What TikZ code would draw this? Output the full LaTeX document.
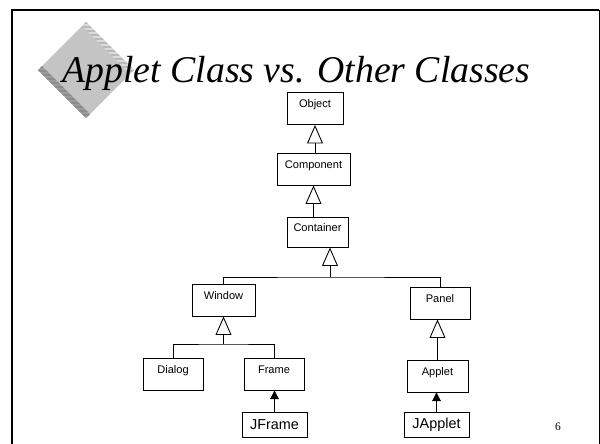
\documentclass[tikz,border=0pt]{standalone}
\usepackage{fontspec}
\setmainfont{Liberation Serif}
\setsansfont{Liberation Sans}
\usetikzlibrary{arrows.meta, positioning, calc}
\definecolor{cface}{HTML}{C4C4C4}
\definecolor{clight}{HTML}{DADADA}
\definecolor{cdark}{HTML}{9C9C9C}
\tikzset{
  every picture/.style={line width=0.5pt},
  cls/.style={draw, minimum width=#1, minimum height=0.64cm, inner sep=0pt,
    font=\sffamily\fontsize{6.3}{7}\selectfont, text height=4.8pt, text depth=5.9pt},
  cls/.default=1.2cm,
  jcls/.style={draw, minimum width=#1, minimum height=0.5cm, inner sep=0pt,
    font=\sffamily\fontsize{8.2}{9}\selectfont},
  jcls/.default=1.3cm,
  inherit/.style={-{Triangle[open, length=10.5pt, width=9pt]}},
  uses/.style={-{Triangle[length=5pt, width=5pt]}},
  title/.style={font=\itshape\fontsize{21.5}{24}\selectfont},
}

\begin{document}
\begin{tikzpicture}[x=0.02cm, y=-0.02cm]
  \useasboundingbox (0,0) rectangle (600,444);
  % slide frame
  \draw[line width=1.7pt] (12,444) -- (12,10) -- (599,10);
  \draw[line width=0.5pt] (599,10) -- (599,444);
  % bevelled diamond behind the title
  \fill[cface] (86,22) -- (134,70) -- (86,118) -- (38,70) -- cycle;
  \begin{scope}
    \clip (86,22) -- (134,70) -- (130,74) -- (82,26) -- cycle;
    \fill[clight] (30,15) rectangle (140,125);
    \foreach \y in {23,27,...,75} \draw[gray!55, line width=1.1pt] (30,\y) -- (140,\y);
  \end{scope}
  \begin{scope}
    \clip (38,70) -- (86,118) -- (90,114) -- (42,66) -- cycle;
    \fill[cdark] (30,15) rectangle (140,125);
    \foreach \y in {67,71,...,119} \draw[gray!90, line width=1.1pt] (30,\y) -- (140,\y);
  \end{scope}
  \node[title, anchor=base west, inner sep=0pt] (ttl) at (62,82) {Applet Class vs. Other Classes};

  \node[cls=1.12cm] (obj) at (315,108.5) {Object};
  \node[cls=1.46cm] (comp) at (313.5,169) {Component};
  \node[cls=1.22cm, minimum height=0.6cm] (cont) at (317.5,232) {Container};
  \node[cls=1.26cm] (win) at (223.5,300) {Window};
  \node[cls] (pnl) at (440,303) {Panel};
  \node[cls] (dlg) at (173,374) {Dialog};
  \node[cls] (frm) at (274,374) {Frame};
  \node[cls=1.22cm] (apl) at (437.5,376) {Applet};
  \node[jcls] (jfrm) at (274.5,424.5) {JFrame};
  \node[jcls] (japl) at (436.5,424.5) {JApplet};
  \node[font=\fontsize{6.5}{7}\selectfont] (pnum) at (558,427) {6};

  \draw[inherit] (comp.north -| obj.south) -- (obj.south);
  \draw[inherit] (cont.north -| comp.south) -- (comp.south);
  \coordinate (cbus) at (330,277);
  \draw[inherit] (cbus) -- (cbus |- cont.south);
  \draw (win.north) |- (cbus) -| (pnl.north);
  \coordinate (wbus) at (223.5,344);
  \draw[inherit] (wbus) -- (win.south);
  \draw (dlg.north) |- (wbus) -| (frm.north);
  \draw[inherit] (apl.north) -- (apl.north |- pnl.south);
  \draw[uses] (jfrm.north) -- (jfrm.north |- frm.south);
  \draw[uses] (japl.north) -- (japl.north |- apl.south);
\end{tikzpicture}
\end{document}
